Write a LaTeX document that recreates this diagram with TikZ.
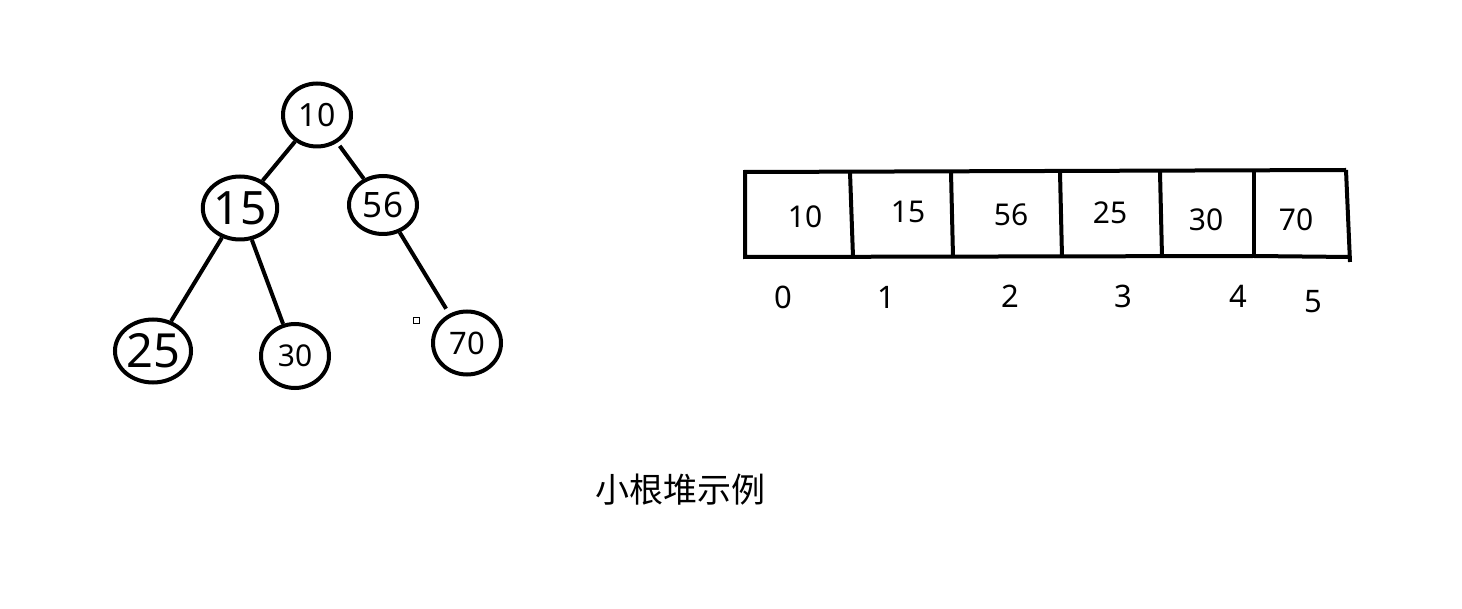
\documentclass[tikz,border=0pt]{standalone}
\usepackage{fontspec}
\setmainfont{Noto Sans}
\newfontfamily\cjk{Noto Sans CJK SC}
\usetikzlibrary{shapes.geometric}
\begin{document}
\begin{tikzpicture}[x=1pt,y=-1pt,
  tnode/.style={ellipse,draw,line width=4pt,inner sep=0pt,minimum width=68pt,minimum height=63pt},
  edge/.style={line width=4pt},
  cellline/.style={line width=4pt},
  ctext/.style={inner sep=0pt,font=\fontsize{30}{33}\selectfont},
  itext/.style={inner sep=0pt,font=\fontsize{31}{34}\selectfont}]
\useasboundingbox (0,0) rectangle (1462,609);
% tree
\node[tnode] (n10) at (317,115) {\fontsize{32}{34}\selectfont 10};
\node[tnode] (n15) at (240,208) {\fontsize{46}{48}\selectfont 15};
\node[tnode,minimum height=58pt] (n56) at (383,205) {\fontsize{35}{38}\selectfont 56};
\node[tnode] (n25) at (153,351) {\fontsize{47}{48}\selectfont 25};
\node[tnode,minimum height=64pt] (n30) at (295,356) {\fontsize{30}{32}\selectfont 30};
\node[tnode] (n70) at (467,343) {\fontsize{31}{32}\selectfont 70};
\draw[edge] (n10) -- (n15);
\draw[edge,shorten <=4pt] (n10) -- (n56);
\draw[edge] (n15) -- (n25);
\draw[edge] (n15) -- (n30);
\draw[edge,shorten >=6pt] (n56) -- (n70);
\node[draw,line width=1pt,minimum size=6pt,inner sep=0pt] (sq) at (416,321) {};
% array
\coordinate (t0) at (745,172); \coordinate (b0) at (745,257);
\coordinate (t1) at (850,172); \coordinate (b1) at (853,257);
\coordinate (t2) at (951,172); \coordinate (b2) at (953,257);
\coordinate (t3) at (1060,172); \coordinate (b3) at (1062,257);
\coordinate (t4) at (1160,172); \coordinate (b4) at (1162,257);
\coordinate (t5) at (1254,172); \coordinate (b5) at (1254,256);
\coordinate (t6) at (1346,170); \coordinate (b6) at (1350,262);
\coordinate (b6a) at (1350,257);
\draw[cellline,line join=miter] (t6) -- (t0) -- (b0) -- (b5) -- (b6a);
\draw[cellline] (t6) -- (b6);
\foreach \i in {1,...,5} \draw[cellline] (t\i) -- (b\i);
\node[ctext] (v0) at (805,217) {10};
\node[ctext] (v1) at (908,212) {15};
\node[ctext] (v2) at (1011,215) {56};
\node[ctext] (v3) at (1110,213) {25};
\node[ctext] (v4) at (1206,220) {30};
\node[ctext] (v5) at (1296,220) {70};
\node[itext] (i0) at (783,297) {0};
\node[itext] (i1) at (886,297) {1};
\node[itext] (i2) at (1010,296) {2};
\node[itext] (i3) at (1123,296) {3};
\node[itext] (i4) at (1238,296) {4};
\node[itext] (i5) at (1313,302) {5};
% caption
\node[inner sep=0pt,font=\cjk\fontsize{34}{36}\selectfont] (cap) at (680,490) {小根堆示例};
\end{tikzpicture}
\end{document}
